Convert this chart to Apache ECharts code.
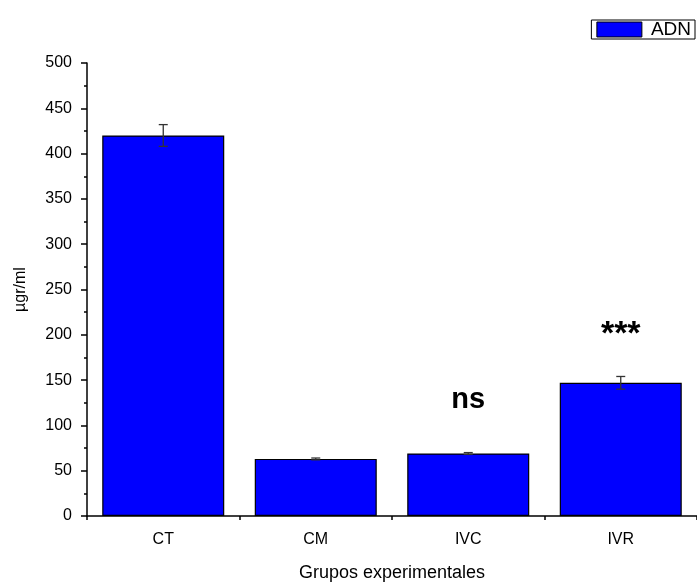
<!DOCTYPE html>
<html>
<head>
<meta charset="utf-8">
<script src="https://cdn.jsdelivr.net/npm/echarts@6/dist/echarts.min.js"></script>
<style>
  html, body { margin: 0; padding: 0; background: #fff; }
  #chart { width: 697px; height: 587px; }
</style>
</head>
<body>
<div id="chart"></div>
<script>
// ADN concentration per experimental group (µgr/ml), mean ± error
const categories = ['CT', 'CM', 'IVC', 'IVR'];
const means = [420, 63, 69, 147];
const errors = [12, 1, 1, 7];
const significance = ['', '', 'ns', '***'];
const yTicks = { min: 0, max: 500, interval: 50 };

const FONT = '"Liberation Sans", Arial, sans-serif';

const errorData = categories.map((c, i) => [i, means[i], errors[i]]);

const chart = echarts.init(document.getElementById('chart'));

chart.setOption({
  backgroundColor: '#ffffff',
  animation: false,
  textStyle: { fontFamily: FONT },
  grid: { left: 87, right: 0, top: 63, bottom: 69, containLabel: false },
  legend: {
    right: 2,
    top: 20,
    data: ['ADN'],
    icon: 'rect',
    itemWidth: 45,
    itemHeight: 15,
    itemGap: 4,
    padding: [0, 4, 0, 5],
    borderColor: '#000',
    borderWidth: 1,
    borderRadius: 0,
    textStyle: { fontFamily: FONT, fontSize: 19, color: '#000', padding: [0, 0, 0, 4] },
    itemStyle: { borderColor: '#000', borderWidth: 1 }
  },
  xAxis: [
    {
      type: 'category',
      data: categories,
      name: 'Grupos experimentales',
      nameLocation: 'middle',
      nameGap: 48,
      nameTextStyle: { fontFamily: FONT, fontSize: 18, color: '#000' },
      axisLine: { lineStyle: { color: '#000', width: 1.5 } },
      axisTick: { alignWithLabel: true, length: 7, lineStyle: { color: '#000', width: 1.5 } },
      axisLabel: { fontFamily: FONT, fontSize: 16, color: '#000', margin: 16 },
      splitLine: { show: false }
    },
    {
      // short ticks on category boundaries
      type: 'category',
      data: categories,
      position: 'bottom',
      axisLine: { show: false },
      axisTick: { show: true, alignWithLabel: false, length: 4, lineStyle: { color: '#000', width: 1.5 } },
      axisLabel: { show: false },
      splitLine: { show: false }
    }
  ],
  yAxis: {
    type: 'value',
    min: yTicks.min,
    max: yTicks.max,
    interval: yTicks.interval,
    name: 'µgr/ml',
    nameLocation: 'middle',
    nameGap: 58,
    nameTextStyle: { fontFamily: FONT, fontSize: 16, color: '#000' },
    axisLine: { show: true, lineStyle: { color: '#000', width: 1.5 } },
    axisTick: { show: true, length: 6, lineStyle: { color: '#000', width: 1.5 } },
    minorTick: { show: true, splitNumber: 2, length: 3, lineStyle: { color: '#000', width: 1.5 } },
    axisLabel: { fontFamily: FONT, fontSize: 16, color: '#000', margin: 15 },
    splitLine: { show: false },
    minorSplitLine: { show: false }
  },
  series: [
    {
      name: 'ADN',
      type: 'bar',
      data: means,
      barCategoryGap: '20%',
      itemStyle: { color: '#0000ff', borderColor: '#000', borderWidth: 1.2 },
      z: 2
    },
    {
      name: 'err',
      type: 'custom',
      data: errorData,
      z: 5,
      renderItem: function (params, api) {
        const idx = api.value(0);
        const m = api.value(1);
        const e = api.value(2);
        const label = significance[idx];
        const top = api.coord([idx, m + e]);
        const bot = api.coord([idx, m - e]);
        const base = api.coord([idx, m]);
        const hw = 4.5;
        const style = { stroke: '#333', lineWidth: 1.3 };
        const children = [
          { type: 'line', shape: { x1: top[0], y1: top[1], x2: bot[0], y2: bot[1] }, style: style },
          { type: 'line', shape: { x1: top[0] - hw, y1: top[1], x2: top[0] + hw, y2: top[1] }, style: style },
          { type: 'line', shape: { x1: bot[0] - hw, y1: bot[1], x2: bot[0] + hw, y2: bot[1] }, style: style }
        ];
        if (label) {
          const isStars = label.indexOf('*') >= 0;
          children.push({
            type: 'text',
            style: {
              x: base[0],
              y: base[1] - (isStars ? 48 : 53),
              text: label,
              fontFamily: FONT,
              fontSize: isStars ? 34 : 29,
              fontWeight: 'bold',
              fill: '#000',
              align: 'center',
              verticalAlign: 'middle'
            }
          });
        }
        return { type: 'group', children: children };
      }
    }
  ]
});
</script>
</body>
</html>
